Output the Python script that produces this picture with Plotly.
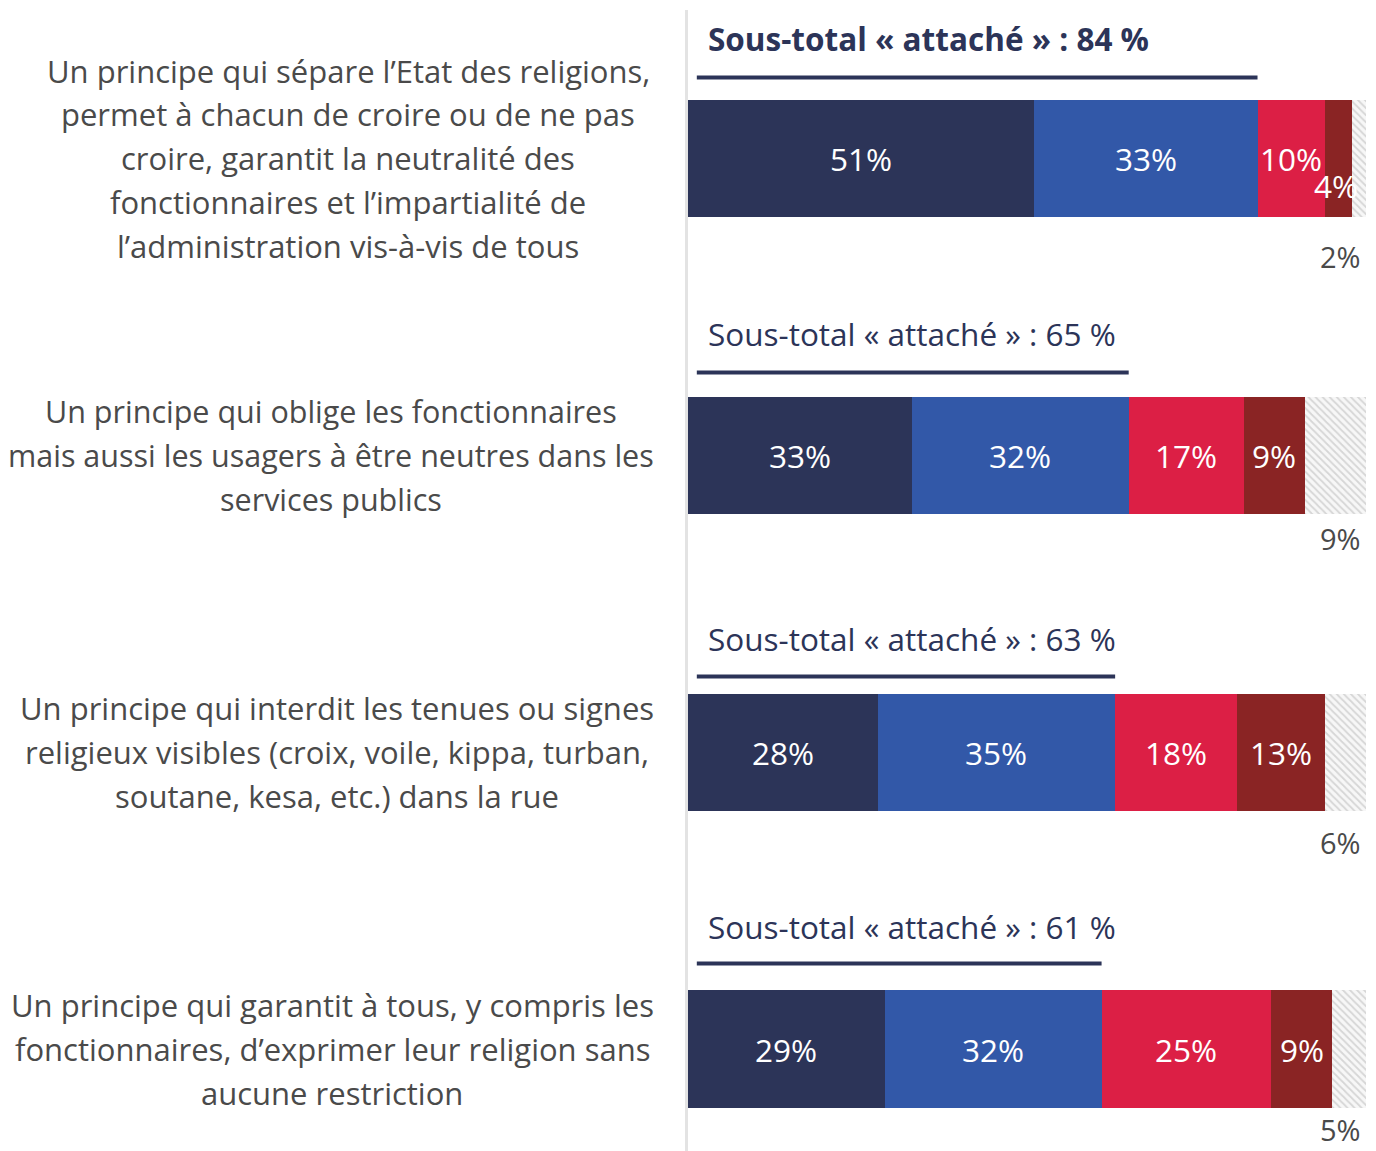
import plotly.graph_objects as go

# ---- data ----
label_lines = [
    ["Un principe qui sépare l’Etat des religions,",
     "permet à chacun de croire ou de ne pas",
     "croire, garantit la neutralité des",
     "fonctionnaires et l’impartialité de",
     "l’administration vis-à-vis de tous"],
    ["Un principe qui oblige les fonctionnaires",
     "mais aussi les usagers à être neutres dans les",
     "services publics"],
    ["Un principe qui interdit les tenues ou signes",
     "religieux visibles (croix, voile, kippa, turban,",
     "soutane, kesa, etc.) dans la rue"],
    ["Un principe qui garantit à tous, y compris les",
     "fonctionnaires, d’exprimer leur religion sans",
     "aucune restriction"],
]
series_names = ["Très attaché", "Plutôt attaché", "Plutôt pas attaché",
                "Pas du tout attaché", "Ne se prononce pas"]
tres = [51, 33, 28, 29]
plutot = [33, 32, 35, 32]
plutot_pas = [10, 17, 18, 25]
pas_du_tout = [4, 9, 13, 9]
nsp = [2, 9, 6, 5]
subtotal = [84, 65, 63, 61]

# ---- layout / style (pixel offsets) ----
colors = ["#2C3458", "#3258A8", "#DC1F45", "#8A2424"]
navy = "#2C3458"
gray_text = "#4a4a4a"
FONT = "Open Sans"
label_center_px = [348, 331, 337, 332]   # x-centre of each left text block
label_size = [31, 30.5, 31, 31]
title_shift_px = [61, 63, 55, 64]        # subtotal text above bar top
rule_shift_px = [22, 24, 17, 27]         # subtotal rule above bar top
nsp_shift_px = [39, 24, 31, 21]          # NSP label below bar bottom
PLOT_L, PLOT_W = 688, 678

ys = list(range(len(label_lines)))
bar_w = 0.397
series = [tres, plutot, plutot_pas, pas_du_tout]

fig = go.Figure()
for name, vals, col in zip(series_names[:4], series, colors):
    fig.add_trace(go.Bar(y=ys, x=vals, orientation="h", name=name,
                         marker=dict(color=col, line=dict(width=0)),
                         width=bar_w, hoverinfo="skip"))
fig.add_trace(go.Bar(y=ys, x=nsp, orientation="h", name=series_names[4],
                     marker=dict(color="white", line=dict(width=0),
                                 pattern=dict(shape="\\", fgcolor="#b5b5b5",
                                              bgcolor="#f7f7f7", size=5,
                                              solidity=0.35)),
                     width=bar_w, hoverinfo="skip"))

annotations = []
shapes = []
px_unit = 297.0  # pixels per category unit (approx.)
for i in ys:
    # segment labels
    cum = 0
    for vals in series:
        v = vals[i]
        annotations.append(dict(
            x=cum + v / 2, y=i, xref="x", yref="y", text=f"{v}%",
            showarrow=False, font=dict(family=FONT, size=31.5, color="white"),
            yshift=-27 if v < 5 else 0, xshift=-3 if v < 5 else 0))
        cum += v
    # NSP label under bar
    annotations.append(dict(
        x=100, y=i + bar_w / 2, xref="x", yref="y", text=f"{nsp[i]}%",
        showarrow=False, xanchor="right", yanchor="middle", xshift=-4,
        borderpad=0,
        yshift=-nsp_shift_px[i], font=dict(family=FONT, size=29, color=gray_text)))
    # subtotal title
    txt = f"Sous-total « attaché » : {subtotal[i]} %"
    if i == 0:
        txt = f"<b>{txt}</b>"
    annotations.append(dict(
        x=0, y=i - bar_w / 2, xref="x", yref="y", text=txt,
        showarrow=False, xanchor="left", yanchor="middle", xshift=18,
        yshift=title_shift_px[i], font=dict(family=FONT, size=31.5, color=navy)))
    # subtotal line
    ry = i - bar_w / 2 - rule_shift_px[i] / px_unit
    shapes.append(dict(type="line", xref="x", yref="y",
                       x0=1.3, x1=subtotal[i], y0=ry, y1=ry,
                       line=dict(color=navy, width=4)))
    # left category label lines
    lines = label_lines[i]
    n = len(lines)
    cx = (label_center_px[i] - PLOT_L) / PLOT_W
    for j, line in enumerate(lines):
        off = (j - (n - 1) / 2) * 44 / px_unit
        annotations.append(dict(
            x=cx, y=i + off, xref="paper", yref="y", text=line,
            showarrow=False, xanchor="center", yanchor="middle",
            font=dict(family=FONT, size=label_size[i], color=gray_text)))

fig.update_layout(
    barmode="stack",
    width=1376, height=1151,
    margin=dict(l=PLOT_L, r=1376 - PLOT_L - PLOT_W, t=10, b=0),
    paper_bgcolor="white", plot_bgcolor="white",
    showlegend=False,
    bargap=0,
    xaxis=dict(range=[0, 100], visible=False, fixedrange=True),
    yaxis=dict(range=[3.342, -0.5], autorange=False, showticklabels=False,
               showgrid=False, zeroline=False, showline=True,
               linecolor="#e3e3e3", linewidth=3, ticks=""),
    annotations=annotations,
    shapes=shapes,
)

fig.write_html("out.html", config={"displayModeBar": False},
               post_script="document.body.style.margin='0';"
                           "document.body.style.overflow='hidden';")
